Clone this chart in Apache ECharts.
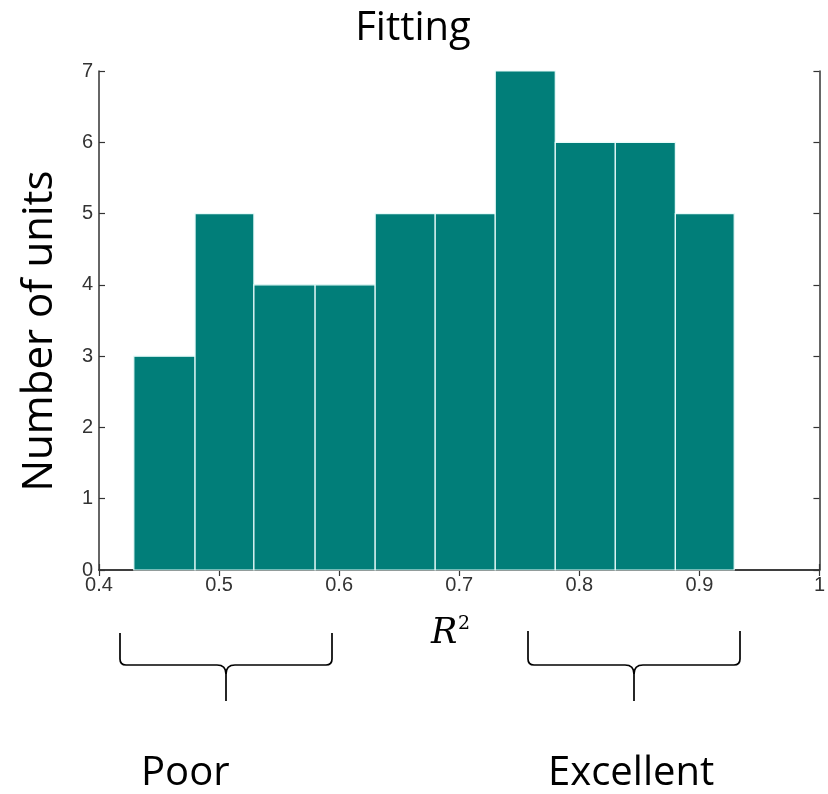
<!DOCTYPE html>
<html><head><meta charset="utf-8">
<script src="https://cdn.jsdelivr.net/npm/echarts@6/dist/echarts.min.js"></script>
<style>html,body{margin:0;padding:0;background:#fff}#c{width:828px;height:794px}</style>
</head><body><div id="c"></div>
<script>
const binEdges = [0.429, 0.48, 0.529, 0.58, 0.63, 0.68, 0.73, 0.78, 0.83, 0.88, 0.929];
const counts = [3, 5, 4, 4, 5, 5, 7, 6, 6, 5];
const xTicks = [0.4, 0.5, 0.6, 0.7, 0.8, 0.9, 1];
const yTicks = [0, 1, 2, 3, 4, 5, 6, 7];
const titleText = 'Fitting';
const yName = 'Number of units';
const xName = 'R';
const xNameSup = '2';
const leftLabel = 'Poor';
const rightLabel = 'Excellent';

const data = counts.map((c, i) => [binEdges[i], binEdges[i + 1], c]);
const chart = echarts.init(document.getElementById('c'));
const axisCol = '#333';
const tickStyle = {show: true, inside: true, length: 6, lineStyle: {color: axisCol, width: 1.2}};
const labelFmt = v => String(+v.toFixed(1));
const braceStyle = {stroke: '#000', lineWidth: 1.7, fill: null};
function brace(x1, x2, yTop, yMid, yTip) {
  const cx = (x1 + x2) / 2, r = 6, rc = 9;
  const L = (a, b, c, d) => ({type: 'line', shape: {x1: a, y1: b, x2: c, y2: d}, style: braceStyle});
  const Q = (a, b, cpx, cpy, c, d) => ({type: 'bezierCurve', shape: {x1: a, y1: b, cpx1: cpx, cpy1: cpy, x2: c, y2: d}, style: braceStyle});
  return {type: 'group', children: [
    L(x1, yTop, x1, yMid - r),
    Q(x1, yMid - r, x1, yMid, x1 + r, yMid),
    L(x1 + r, yMid, cx - rc, yMid),
    Q(cx - rc, yMid, cx, yMid, cx, yMid + rc),
    L(cx, yMid + rc, cx, yTip),
    Q(cx, yMid + rc, cx, yMid, cx + rc, yMid),
    L(cx + rc, yMid, x2 - r, yMid),
    Q(x2 - r, yMid, x2, yMid, x2, yMid - r),
    L(x2, yMid - r, x2, yTop)
  ]};
}
const bigFont = '40px "Open Sans"';
chart.setOption({
  animation: false,
  grid: {left: 99, right: 3, top: 71, bottom: 224, containLabel: false},
  xAxis: [{
    type: 'value', min: 0.4, max: 1, interval: 0.1, position: 'bottom',
    axisLine: {show: true, lineStyle: {color: axisCol, width: 1.5}},
    axisTick: tickStyle, splitLine: {show: false},
    axisLabel: {formatter: labelFmt, fontFamily: 'Liberation Sans', fontSize: 20, color: '#333', margin: 5}
  }, {
    type: 'value', min: 0.4, max: 1, interval: 0.1, position: 'top',
    axisLine: {show: true, lineStyle: {color: axisCol, width: 1.5}},
    axisTick: tickStyle, splitLine: {show: false}, axisLabel: {show: false}
  }],
  yAxis: [{
    type: 'value', min: 0, max: 7, interval: 1, position: 'left',
    axisLine: {show: true, lineStyle: {color: axisCol, width: 1.5}},
    axisTick: tickStyle, splitLine: {show: false},
    axisLabel: {fontFamily: 'Liberation Sans', fontSize: 20, color: '#333', margin: 6}
  }, {
    type: 'value', min: 0, max: 7, interval: 1, position: 'right',
    axisLine: {show: true, lineStyle: {color: axisCol, width: 1.5}},
    axisTick: tickStyle, splitLine: {show: false}, axisLabel: {show: false}
  }],
  series: [{
    type: 'custom',
    data: data,
    encode: {x: [0, 1], y: 2},
    renderItem: function (params, api) {
      const p0 = api.coord([api.value(0), 0]);
      const p1 = api.coord([api.value(1), api.value(2)]);
      return {
        type: 'rect',
        shape: {x: p0[0], y: p1[1], width: p1[0] - p0[0], height: p0[1] - p1[1]},
        style: {fill: '#017e79', stroke: '#e8fbfa', lineWidth: 1.2}
      };
    }
  }],
  graphic: [
    {type: 'text', x: 413, y: 29, style: {text: titleText, font: bigFont, fill: '#000', align: 'center', verticalAlign: 'middle'}},
    {type: 'text', x: 40, y: 331, rotation: Math.PI / 2,
      style: {text: yName, font: '42px "Open Sans"', fill: '#000', align: 'center', verticalAlign: 'middle'}},
    {type: 'text', x: 431, y: 634, style: {text: xName, font: 'italic 35px "DejaVu Serif", serif', fill: '#000', align: 'left', verticalAlign: 'middle'}},
    {type: 'text', x: 458, y: 624, style: {text: xNameSup, font: '19px "DejaVu Serif", serif', fill: '#000', align: 'left', verticalAlign: 'middle'}},
    brace(120, 332, 633, 665, 701),
    brace(528, 740, 631, 665, 701),
    {type: 'text', x: 141, y: 774, style: {text: leftLabel, font: bigFont, fill: '#000', align: 'left', verticalAlign: 'middle'}},
    {type: 'text', x: 548, y: 774, style: {text: rightLabel, font: bigFont, fill: '#000', align: 'left', verticalAlign: 'middle'}}
  ]
});
</script></body></html>
